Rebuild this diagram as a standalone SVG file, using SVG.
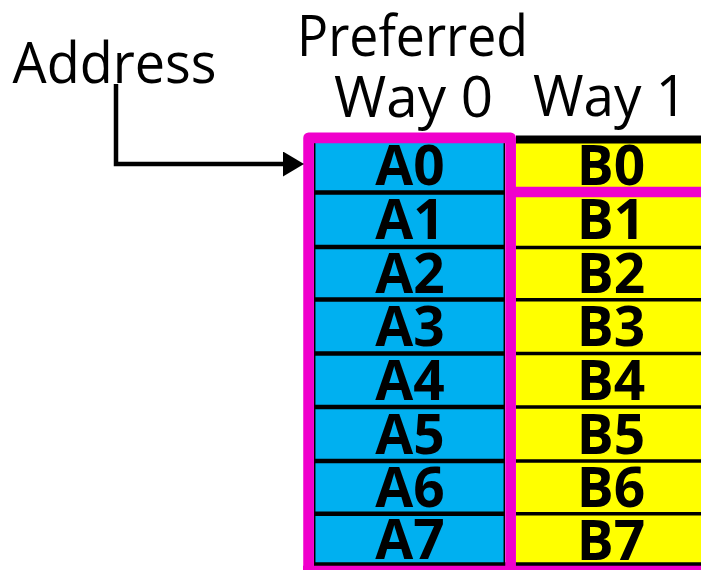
<svg xmlns="http://www.w3.org/2000/svg" width="701" height="570" viewBox="0 0 701 570">
  <style>
    .lbl { font-family: "Open Sans", "Noto Sans", sans-serif; font-size: 57px; fill: #000; }
    .cell { font-family: "Open Sans", "Noto Sans", sans-serif; font-weight: bold; font-size: 55px; text-anchor: middle; fill: #000; }
    .w0 { fill: #00B0F0; }
    .w1 { fill: #FFFF00; }
    .sepA { stroke: #000; stroke-width: 4.5; }
    .sepB { stroke: #000; stroke-width: 3.5; }
    .edge { stroke: #000; stroke-width: 1.5; }
    .hl { fill: none; stroke: #F000CC; stroke-width: 10.7; stroke-linejoin: round; }
    .wire { fill: none; stroke: #000; stroke-width: 4.5; }
  </style>
  <defs>
    <marker id="arrow" markerUnits="userSpaceOnUse" markerWidth="22" markerHeight="26" refX="1" refY="12.5" orient="auto">
      <path d="M0,0 L21,12.5 L0,25 Z" fill="#000"/>
    </marker>
  </defs>

  <rect width="701" height="570" fill="#fff"/>

  <!-- headings -->
  <g id="address"><text class="lbl" x="12.5" y="83" textLength="204" lengthAdjust="spacingAndGlyphs">Address</text></g>
  <g id="way0-head">
    <text class="lbl" x="297" y="56" textLength="231" lengthAdjust="spacingAndGlyphs">Preferred</text>
    <text class="lbl" x="334" y="117" textLength="159" lengthAdjust="spacingAndGlyphs">Way 0</text>
  </g>
  <g id="way1-head"><text class="lbl" x="533" y="116" textLength="154" lengthAdjust="spacingAndGlyphs">Way 1</text></g>

  <!-- way 0 cells -->
  <g id="A0"><rect class="w0" x="314" y="139" width="191" height="53.5"/><text class="cell" x="410" y="185.3">A0</text></g>
  <g id="A1"><rect class="w0" x="314" y="192.5" width="191" height="54.5"/><text class="cell" x="410" y="239.3">A1</text></g>
  <g id="A2"><rect class="w0" x="314" y="247" width="191" height="52.5"/><text class="cell" x="410" y="292.8">A2</text></g>
  <g id="A3"><rect class="w0" x="314" y="299.5" width="191" height="54"/><text class="cell" x="410" y="346">A3</text></g>
  <g id="A4"><rect class="w0" x="314" y="353.5" width="191" height="53.5"/><text class="cell" x="410" y="399.8">A4</text></g>
  <g id="A5"><rect class="w0" x="314" y="407" width="191" height="54"/><text class="cell" x="410" y="453.5">A5</text></g>
  <g id="A6"><rect class="w0" x="314" y="461" width="191" height="52.7"/><text class="cell" x="410" y="506.9">A6</text></g>
  <g id="A7"><rect class="w0" x="314" y="513.7" width="191" height="52"/><text class="cell" x="410" y="558.8">A7</text></g>

  <!-- way 1 cells -->
  <g id="B0"><rect class="w1" x="516" y="139" width="190" height="53.5"/><text class="cell" x="611" y="185.3">B0</text></g>
  <g id="B1"><rect class="w1" x="516" y="192.5" width="190" height="54.5"/><text class="cell" x="611" y="239.3">B1</text></g>
  <g id="B2"><rect class="w1" x="516" y="247" width="190" height="52.5"/><text class="cell" x="611" y="292.8">B2</text></g>
  <g id="B3"><rect class="w1" x="516" y="299.5" width="190" height="54"/><text class="cell" x="611" y="346">B3</text></g>
  <g id="B4"><rect class="w1" x="516" y="353.5" width="190" height="53.5"/><text class="cell" x="611" y="399.8">B4</text></g>
  <g id="B5"><rect class="w1" x="516" y="407" width="190" height="54"/><text class="cell" x="611" y="453.5">B5</text></g>
  <g id="B6"><rect class="w1" x="516" y="461" width="190" height="52.7"/><text class="cell" x="611" y="506.9">B6</text></g>
  <g id="B7"><rect class="w1" x="516" y="513.7" width="190" height="52"/><text class="cell" x="611" y="560">B7</text></g>

  <!-- table rules -->
  <g id="grid">
    <line class="edge" x1="314.7" y1="139" x2="314.7" y2="566"/>
    <line class="edge" x1="504.3" y1="139" x2="504.3" y2="566"/>
    <line class="sepA" x1="314" y1="192.5" x2="505" y2="192.5"/>
    <line class="sepA" x1="314" y1="247" x2="505" y2="247"/>
    <line class="sepA" x1="314" y1="299.5" x2="505" y2="299.5"/>
    <line class="sepA" x1="314" y1="353.5" x2="505" y2="353.5"/>
    <line class="sepA" x1="314" y1="407" x2="505" y2="407"/>
    <line class="sepA" x1="314" y1="461" x2="505" y2="461"/>
    <line class="sepA" x1="314" y1="513.7" x2="505" y2="513.7"/>
    <line class="sepB" x1="516" y1="247.5" x2="701" y2="247.5"/>
    <line class="sepB" x1="516" y1="299.7" x2="701" y2="299.7"/>
    <line class="sepB" x1="516" y1="353.5" x2="701" y2="353.5"/>
    <line class="sepB" x1="516" y1="407" x2="701" y2="407"/>
    <line class="sepB" x1="516" y1="461" x2="701" y2="461"/>
    <line class="sepB" x1="516" y1="513.7" x2="701" y2="513.7"/>
    <line stroke="#000" stroke-width="4" x1="314" y1="564.2" x2="701" y2="564.2"/>
    <line stroke="#000" stroke-width="8" x1="516" y1="139.4" x2="701" y2="139.4"/>
  </g>

  <!-- preferred-way highlight -->
  <g id="highlight">
    <path class="hl" d="M308.6,590 V137.9 H510.6 V590"/>
    <line class="hl" x1="510.6" y1="192" x2="705" y2="192" stroke-width="10"/>
    <line class="hl" x1="303" y1="571" x2="705" y2="571" stroke-width="10"/>
  </g>

  <!-- address connector -->
  <g id="connectors">
    <path class="wire" d="M116,84 V164 H284" marker-end="url(#arrow)"/>
  </g>
</svg>
